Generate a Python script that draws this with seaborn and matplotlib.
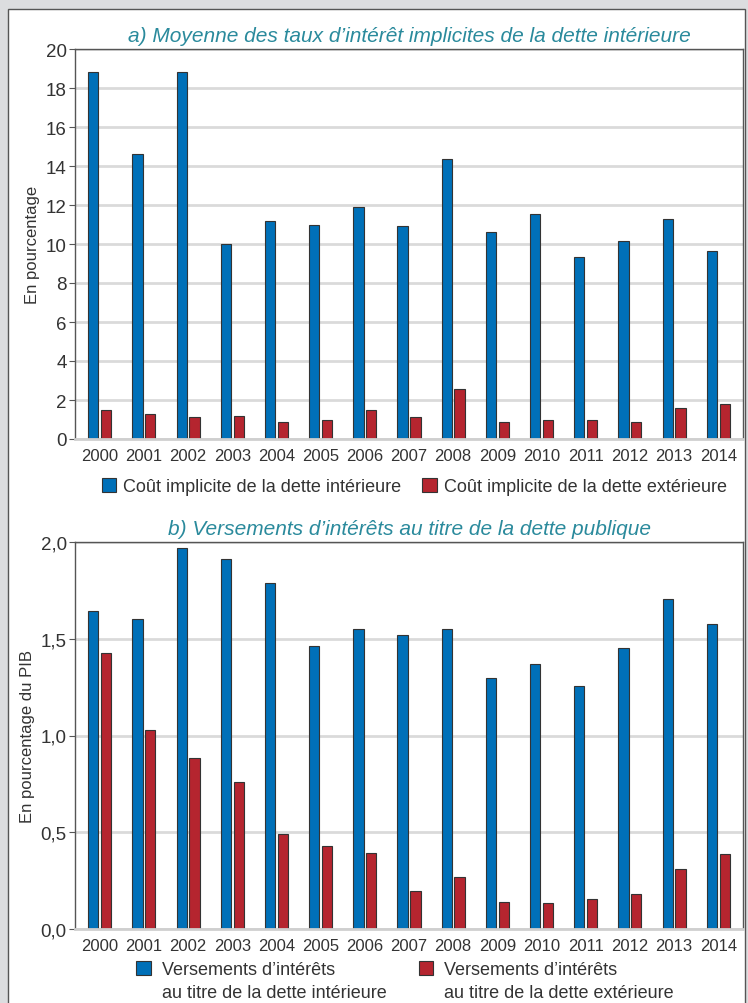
import matplotlib
matplotlib.use("Agg")
import matplotlib.pyplot as plt
import matplotlib.patches as mpatches
import pandas
import seaborn as sns

years = [str(y) for y in range(2000, 2015)]

# a) implicit interest rates (percent)
cout_interieure = [18.8, 14.6, 18.8, 10.0, 11.2, 11.0, 11.9, 10.9, 14.35, 10.6, 11.55, 9.35, 10.15, 11.3, 9.65]
cout_exterieure = [1.5, 1.3, 1.15, 1.2, 0.85, 1.0, 1.5, 1.15, 2.55, 0.85, 0.95, 0.95, 0.85, 1.6, 1.8]

# b) interest payments (percent of GDP)
vers_interieure = [1.645, 1.60, 1.97, 1.91, 1.79, 1.465, 1.55, 1.52, 1.55, 1.295, 1.37, 1.255, 1.45, 1.705, 1.575]
vers_exterieure = [1.425, 1.03, 0.885, 0.76, 0.49, 0.43, 0.395, 0.195, 0.27, 0.14, 0.135, 0.155, 0.18, 0.31, 0.39]

labels_a = ["Coût implicite de la dette intérieure", "Coût implicite de la dette extérieure"]
labels_b = ["Versements d’intérêts", "Versements d’intérêts"]
labels_b2 = ["au titre de la dette intérieure", "au titre de la dette extérieure"]
title_a = "a) Moyenne des taux d’intérêt implicites de la dette intérieure"
title_b = "b) Versements d’intérêts au titre de la dette publique"

blue = "#0070b8"
red = "#b5252f"
teal = "#2a8a9c"
text_col = "#333333"

sns.set_theme(style="white")
plt.rcParams["font.family"] = ["Liberation Sans", "DejaVu Sans"]


def long_frame(first, second, labels):
    rows = []
    for y, v in zip(years, first):
        rows.append({"year": y, "value": v, "serie": labels[0]})
    for y, v in zip(years, second):
        rows.append({"year": y, "value": v, "serie": labels[1]})
    return pandas.DataFrame(rows)


def draw_panel(ax, df, title, ylabel, ymax, yticks, yticklabels):
    sns.barplot(
        data=df, x="year", y="value", hue="serie", hue_order=["a", "b"],
        palette=[blue, red], saturation=1, width=0.58, gap=0.2,
        edgecolor="#333333", linewidth=0.8, ax=ax,
    )
    ax.set_xlim(-0.56, 14.56)
    ax.set_ylim(0, ymax)
    ax.set_yticks(yticks)
    ax.set_yticklabels(yticklabels)
    ax.yaxis.grid(True, color="#dadada", linewidth=2)
    ax.set_axisbelow(True)
    for side in ["left", "top", "right"]:
        ax.spines[side].set_color("#555555")
        ax.spines[side].set_linewidth(1)
    ax.spines["bottom"].set_color("#cfcfcf")
    ax.spines["bottom"].set_linewidth(2)
    ax.tick_params(axis="y", left=True, length=4, width=0.8, color="#555555",
                   labelsize=13.5, labelcolor=text_col, pad=2)
    ax.tick_params(axis="x", bottom=False, labelsize=12, labelcolor=text_col, pad=0.5)
    ax.set_xlabel("")
    ax.set_ylabel(ylabel, fontsize=12, color=text_col, labelpad=4)
    ax.set_title(title, fontsize=15, style="italic", color=teal, pad=6)
    handles, _ = ax.get_legend_handles_labels()
    ax.get_legend().remove()
    return handles


fig = plt.figure(figsize=(7.48, 10.04), dpi=100)
fig.patch.set_facecolor("#dcdddf")
panel = mpatches.Rectangle((8 / 748, -0.01), 737 / 748, 1 - 10 / 1004 + 0.01,
                           transform=fig.transFigure, facecolor="white",
                           edgecolor="#555555", linewidth=1, zorder=-10)
fig.patches.append(panel)

ax1 = fig.add_axes([75 / 748, 1 - 440 / 1004, 668 / 748, 390 / 1004])
ax2 = fig.add_axes([75 / 748, 1 - 930 / 1004, 668 / 748, 387 / 1004])

h1 = draw_panel(ax1, long_frame(cout_interieure, cout_exterieure, ["a", "b"]),
                title_a, "En pourcentage", 20, list(range(0, 21, 2)),
                [str(v) for v in range(0, 21, 2)])
ax1.legend(h1, labels_a, loc="upper center", bbox_to_anchor=(0.508, -0.058),
           ncol=2, frameon=False, fontsize=13, handlelength=0.8, handleheight=0.8,
           handletextpad=0.4, columnspacing=1.15, labelcolor=text_col)

h2 = draw_panel(ax2, long_frame(vers_interieure, vers_exterieure, ["a", "b"]),
                title_b, "En pourcentage du PIB", 2.0, [0, 0.5, 1.0, 1.5, 2.0],
                ["0,0", "0,5", "1,0", "1,5", "2,0"])
# second line of each legend label goes in an entry with an empty handle
blank = mpatches.Patch(facecolor="none", edgecolor="none")
ax2.legend([h2[0], blank, h2[1], blank],
           [labels_b[0], labels_b2[0], labels_b[1], labels_b2[1]],
           loc="upper center", bbox_to_anchor=(0.494, -0.04), ncol=2, frameon=False,
           fontsize=13, handlelength=0.8, handleheight=0.8, handletextpad=0.6,
           columnspacing=1.8, labelspacing=0.35, labelcolor=text_col)

fig.savefig("out.png", dpi=100, facecolor=fig.get_facecolor())
